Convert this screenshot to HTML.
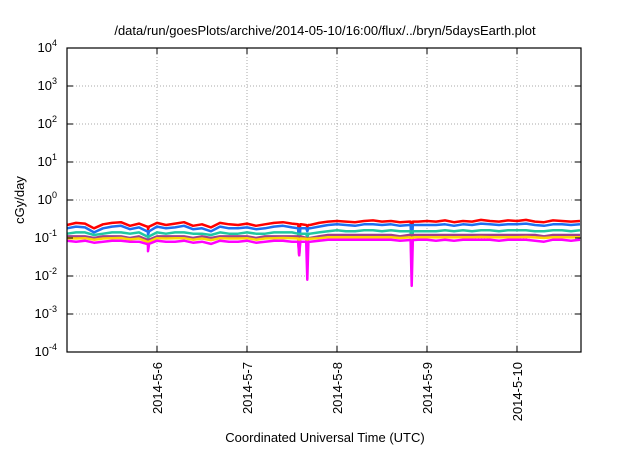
<!DOCTYPE html>
<html><head><meta charset="utf-8"><style>
body{margin:0;background:#fff;font-family:"Liberation Sans",sans-serif}
</style></head><body>
<svg id="c" width="640" height="448" xmlns="http://www.w3.org/2000/svg" font-family="Liberation Sans, sans-serif">
<text x="325" y="35" text-anchor="middle" font-size="13">/data/run/goesPlots/archive/2014-05-10/16:00/flux/../bryn/5daysEarth.plot</text>
<text transform="translate(24,200) rotate(-90)" text-anchor="middle" font-size="13">cGy/day</text>
<text x="325" y="442" text-anchor="middle" font-size="13">Coordinated Universal Time (UTC)</text>
<g id="grid"></g><g id="series"></g><g id="axes"></g>
</svg>
<script>
const xTickDays=[6,7,8,9,10];
const xTickLabels=["2014-5-6","2014-5-7","2014-5-8","2014-5-9","2014-5-10"];
const yTickExps=[-4,-3,-2,-1,0,1,2,3,4];
const seriesNames=["red","blue","teal","purple","yellow","magenta"];
const seriesColors=["#ff0000","#1e6ff0","#20c8a0","#a0408a","#ffd700","#ff00ff"];
const red=[.22,.25,.24,.18,.23,.25,.26,.21,.24,.20,.25,.22,.24,.26,.21,.23,.19,.25,.23,.22,.24,.21,.23,.25,.26,.24,.23,.22,.25,.27,.28,.27,.26,.28,.29,.27,.28,.26,.27,.27,.28,.27,.29,.26,.28,.27,.30,.28,.27,.29,.28,.30,.27,.26,.29,.28,.27,.28];
const blue=[.18,.20,.19,.14,.18,.20,.21,.17,.19,.15,.20,.18,.19,.21,.17,.18,.15,.20,.18,.18,.19,.17,.18,.20,.21,.19,.18,.18,.20,.22,.23,.22,.21,.23,.23,.22,.23,.21,.22,.22,.22,.22,.23,.21,.23,.22,.24,.23,.22,.23,.23,.24,.22,.21,.23,.23,.22,.23];
const teal=[.13,.14,.14,.12,.13,.14,.14,.13,.14,.11,.14,.13,.14,.14,.13,.13,.12,.14,.13,.13,.14,.13,.13,.14,.14,.14,.13,.13,.14,.15,.16,.15,.15,.16,.16,.15,.16,.15,.15,.15,.15,.15,.16,.15,.16,.15,.16,.16,.15,.16,.16,.16,.15,.15,.16,.16,.15,.16];
const purple=[.11,.11,.11,.10,.11,.11,.11,.10,.11,.09,.11,.11,.11,.11,.10,.11,.10,.11,.11,.11,.11,.10,.11,.11,.11,.11,.11,.10,.11,.12,.12,.12,.12,.12,.12,.12,.12,.11,.12,.12,.12,.12,.12,.12,.12,.12,.12,.12,.12,.12,.12,.12,.12,.11,.12,.12,.12,.12];
const yellow=[.098,.097,.099,.09,.097,.099,.1,.092,.097,.08,.099,.097,.098,.099,.09,.097,.088,.099,.097,.097,.099,.09,.097,.099,.1,.098,.097,.096,.099,.105,.105,.105,.105,.105,.105,.105,.105,.1,.104,.105,.105,.104,.105,.104,.105,.105,.106,.105,.104,.105,.105,.106,.104,.1,.105,.105,.104,.105];
const magenta=[.085,.08,.085,.075,.08,.085,.085,.08,.08,.07,.085,.08,.08,.085,.075,.08,.07,.085,.08,.08,.085,.075,.08,.085,.085,.08,.08,.08,.085,.09,.09,.09,.09,.09,.09,.09,.09,.085,.088,.09,.09,.085,.09,.085,.09,.09,.09,.09,.085,.09,.09,.09,.085,.08,.09,.09,.085,.09];
const spikeTimes=[5.9,7.58,7.67,8.83];
const spikeRed=[.17,.12,.2,.10];
const spikeBlue=[.12,.05,.15,.06];
const spikeTeal=[.1,.04,.1,.04];
const spikePurple=[.07,.035,.08,.03];
const spikeYellow=[.06,.035,.06,.02];
const spikeMagenta=[.045,.035,.008,.0055];
const tStart=5.0, tStep=0.1;
const seriesData=[red,blue,teal,purple,yellow,magenta];
const spikeData=[spikeRed,spikeBlue,spikeTeal,spikePurple,spikeYellow,spikeMagenta];
const L=67,R=581,T=48,B=352,D0=5,D1=5+(581-67)/90;
const X=d=>L+(d-D0)/(D1-D0)*(R-L);
const Y=v=>B-(Math.log10(v)+4)/8*(B-T);
const NS="http://www.w3.org/2000/svg";
function mk(tag,attrs,parent){const e=document.createElementNS(NS,tag);for(const k in attrs)e.setAttribute(k,attrs[k]);parent.appendChild(e);return e;}
const grid=document.getElementById('grid'),axes=document.getElementById('axes'),ser=document.getElementById('series');
yTickExps.forEach(e=>{const y=Y(Math.pow(10,e));
 if(e>-4&&e<4){const g=mk('line',{x1:L,x2:R,y1:y,y2:y,stroke:'#aaa','stroke-dasharray':'1,2','stroke-width':1},grid);
 
 }
 mk('line',{x1:L,x2:L+6,y1:y,y2:y,stroke:'#000'},axes);mk('line',{x1:R,x2:R-6,y1:y,y2:y,stroke:'#000'},axes);
 const t=mk('text',{x:L-10,y:y+4,'text-anchor':'end','font-size':13},axes);
 
 
 t.textContent='10';const s=mk('tspan',{dy:-6,'font-size':9},t);s.textContent=String(e);
});
xTickDays.forEach((d,i)=>{const x=X(d);
 const g=mk('line',{x1:x,x2:x,y1:T,y2:B,stroke:'#aaa','stroke-dasharray':'1,2'},grid);
 
 
 mk('line',{x1:x,x2:x,y1:B,y2:B-6,stroke:'#000'},axes);mk('line',{x1:x,x2:x,y1:T,y2:T+6,stroke:'#000'},axes);
 const t=mk('text',{transform:`translate(${x+5},362) rotate(-90)`,'text-anchor':'end','font-size':13},axes);
 
 
 t.textContent=xTickLabels[i];
});
const fr=mk('rect',{x:L,y:T,width:R-L,height:B-T,fill:'none',stroke:'#000','stroke-width':1.2},axes);


seriesData.forEach((arr,si)=>{
 let pts=arr.map((v,i)=>({t:tStart+i*tStep,v:v}));
 spikeTimes.forEach((st,k)=>{
  const near=arr[Math.min(arr.length-1,Math.max(0,Math.round((st-tStart)/tStep)))];
  pts.push({t:st-0.012,v:near},{t:st,v:spikeData[si][k]},{t:st+0.012,v:near});
 });
 pts.sort((a,b)=>a.t-b.t);
 const p=mk('polyline',{points:pts.map(o=>X(o.t).toFixed(1)+','+Y(o.v).toFixed(1)).join(' '),fill:'none',stroke:seriesColors[si],'stroke-width':2.5,'stroke-linejoin':'round'},ser);
 
 
});
</script>
</body></html>
